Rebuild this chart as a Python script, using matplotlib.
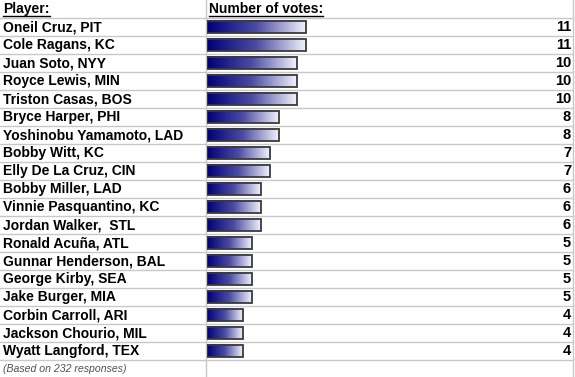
import matplotlib
matplotlib.use('Agg')
import matplotlib.pyplot as plt
import numpy as np
from matplotlib.colors import LinearSegmentedColormap
from matplotlib.patches import Rectangle

players = [
    "Oneil Cruz, PIT", "Cole Ragans, KC", "Juan Soto, NYY", "Royce Lewis, MIN",
    "Triston Casas, BOS", "Bryce Harper, PHI", "Yoshinobu Yamamoto, LAD",
    "Bobby Witt, KC", "Elly De La Cruz, CIN", "Bobby Miller, LAD",
    "Vinnie Pasquantino, KC", "Jordan Walker,  STL", "Ronald Acuña, ATL",
    "Gunnar Henderson, BAL", "George Kirby, SEA", "Jake Burger, MIA",
    "Corbin Carroll, ARI", "Jackson Chourio, MIL", "Wyatt Langford, TEX",
]
votes = [11, 11, 10, 10, 10, 8, 8, 7, 7, 6, 6, 6, 5, 5, 5, 5, 4, 4, 4]
header_left = "Player:"
header_right = "Number of votes:"
footnote = "(Based on 232 responses)"

W, H = 575, 377
ROW = 18.0
plt.rcParams['font.family'] = ['Liberation Sans', 'DejaVu Sans']

fig = plt.figure(figsize=(W / 100, H / 100), dpi=100)
ax = fig.add_axes([0, 0, 1, 1])
ax.set_xlim(0, W)
ax.set_ylim(H / ROW, 0)
ax.axis('off')

grid = '#c8c8c8'
n = len(players)
for k in range(1, n + 2):
    ax.plot([0, 573], [k, k], color=grid, lw=1)
ax.plot([206, 206], [0, H / ROW], color=grid, lw=1)
ax.plot([573, 573], [0, H / ROW], color=grid, lw=1)

# bar axes: x in votes, 9 px per vote starting at 207 px
x0 = 207
bax = fig.add_axes([x0 / W, 0, (573 - x0) / W, 1])
bax.axis('off')
bax.patch.set_alpha(0)

cmap = LinearSegmentedColormap.from_list('navy', ['#000078', '#4c4ca2', '#f2f2fc'])
grad = np.linspace(0, 1, 256).reshape(1, -1)
bh = 0.72
for i, (name, v) in enumerate(zip(players, votes)):
    yc = 1.5 + i
    bax.imshow(grad, cmap=cmap, aspect='auto', interpolation='bilinear',
               extent=[0, v, yc + bh / 2, yc - bh / 2], zorder=2)
    bax.add_patch(Rectangle((0, yc - bh / 2), v, bh, fill=False,
                            edgecolor='#3a3a3a', lw=1.3, zorder=3))
    ax.text(3, yc, name, fontsize=10, fontweight='bold', va='center', ha='left')
    ax.text(571, yc, str(v), fontsize=10.5, fontweight='bold', va='center', ha='right')
bax.set_xlim(0, (573 - x0) / 9.0)
bax.set_ylim(H / ROW, 0)

t1 = ax.text(3, 0.5, header_left, fontsize=10, fontweight='bold', va='center', ha='left')
t2 = ax.text(209, 0.5, header_right, fontsize=10, fontweight='bold', va='center', ha='left')
ax.text(3, 1.5 + n, footnote, fontsize=7.6, style='italic', color='#505050',
        va='center', ha='left')

fig.canvas.draw()
r = fig.canvas.get_renderer()
inv = ax.transData.inverted()
for t in (t1, t2):
    bb = t.get_window_extent(r)
    (xa, ya), (xb, yb) = inv.transform([[bb.x0, bb.y0], [bb.x1, bb.y0]])
    ax.plot([xa, xb], [ya - 0.02, ya - 0.02], color='black', lw=1)

fig.savefig('out.png', dpi=100)
